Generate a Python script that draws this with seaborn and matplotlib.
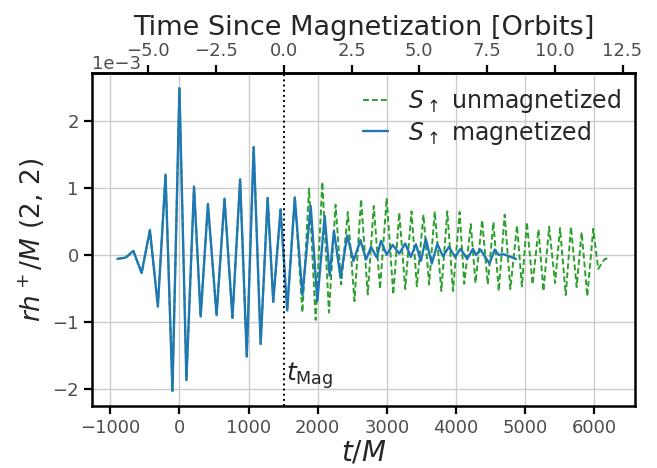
import numpy as np
import pandas as pd
import matplotlib
matplotlib.use("Agg")
import matplotlib.pyplot as plt
import seaborn as sns

# Time of magnetization and orbital period (in M)
t_mag = 1510
orbit_period = 392
orbit_ticks = [-5.0, -2.5, 0.0, 2.5, 5.0, 7.5, 10.0, 12.5]

# Extrema of the strain, h in units of 1e-3
# Inspiral part (identical for both runs)
t_shared = [-897, -777, -667, -547, -427, -312, -201, -101, 0, 101, 211, 307,
            412, 537, 652, 767, 878, 974, 1074, 1175, 1276, 1357, 1463, 1559]
h_shared = [-0.06, -0.04, 0.06, -0.27, 0.37, -0.77, 1.20, -2.03, 2.49, -1.87, 1.02, -0.92,
            0.76, -0.90, 0.84, -0.94, 1.13, -1.52, 1.61, -1.33, 0.85, -0.70, 0.68, -0.83]

# Magnetized run after t_mag
t_mag_run = [1669, 1779, 1899, 1995, 2101, 2173, 2235, 2331, 2427, 2518, 2619, 2700,
             2772, 2854, 2916, 2998, 3084, 3180, 3266, 3348, 3420, 3492, 3564, 3650,
             3731, 3813, 3899, 3986, 4067, 4163, 4245, 4293, 4355, 4403, 4484, 4561,
             4619, 4691, 4868]
h_mag_run = [0.85, -0.60, 0.73, -0.69, 0.58, -0.31, 0.36, -0.34, 0.29, -0.09, 0.22, -0.07,
             0.12, -0.04, 0.21, 0.00, 0.15, 0.02, 0.17, -0.03, 0.16, -0.09, 0.24, -0.13,
             0.16, -0.02, 0.12, -0.03, 0.09, -0.06, 0.09, 0.00, 0.08, 0.00, -0.13, 0.08,
             0.00, 0.01, -0.06]

# Unmagnetized run after t_mag
t_unmag_run = [1669, 1779, 1875, 1971, 2067, 2163, 2259, 2340, 2436, 2532, 2628, 2724,
               2811, 2902, 2998, 3093, 3180, 3266, 3357, 3434, 3530, 3612, 3693, 3789,
               3875, 3957, 4053, 4120, 4215, 4283, 4379, 4460, 4542, 4619, 4705, 4787,
               4883, 4954, 5026, 5108, 5194, 5266, 5348, 5434, 5506, 5588, 5664, 5746,
               5818, 5900, 5986, 6058, 6144, 6211]
h_unmag_run = [0.88, -0.86, 0.99, -0.97, 1.09, -0.86, 0.75, -0.44, 0.64, -0.69, 0.83, -0.59,
               0.73, -0.51, 0.85, -0.59, 0.63, -0.51, 0.65, -0.47, 0.60, -0.44, 0.65, -0.54,
               0.65, -0.54, 0.64, -0.43, 0.46, -0.42, 0.52, -0.44, 0.49, -0.54, 0.60, -0.51,
               0.44, -0.47, 0.49, -0.44, 0.38, -0.54, 0.42, -0.42, 0.40, -0.60, 0.42, -0.48,
               0.34, -0.62, 0.39, -0.21, -0.07, -0.04]

unmag = pd.DataFrame({"t": t_shared + t_unmag_run,
                      "h": np.array(h_shared + h_unmag_run) * 1e-3})
mag = pd.DataFrame({"t": t_shared + t_mag_run,
                    "h": np.array(h_shared + h_mag_run) * 1e-3})

sns.set_theme(style="ticks", rc={
    "axes.grid": True,
    "grid.color": "0.8",
    "grid.linewidth": 1.0,
    "axes.edgecolor": "black",
    "axes.linewidth": 1.8,
    "xtick.color": "black",
    "ytick.color": "black",
    "xtick.labelcolor": "0.3",
    "ytick.labelcolor": "0.3",
    "xtick.major.size": 6,
    "ytick.major.size": 6,
    "xtick.major.width": 1.6,
    "ytick.major.width": 1.6,
    "xtick.labelsize": 13,
    "ytick.labelsize": 13,
})
plt.rcParams["font.family"] = ["DejaVu Sans"]
plt.rcParams["mathtext.fontset"] = "dejavusans"

fig = plt.figure(figsize=(6.57, 4.68), dpi=100)
ax = fig.add_axes([0.140, 0.1325, 0.8265, 0.7115])

sns.lineplot(data=unmag, x="t", y="h", ax=ax, sort=False, estimator=None,
             color="#2ca02c", lw=1.4, linestyle=(0, (3, 1.6)),
             dash_joinstyle="round", label=r"$S_\uparrow$ unmagnetized")
sns.lineplot(data=mag, x="t", y="h", ax=ax, sort=False, estimator=None,
             color="#1f77b4", lw=1.7, solid_joinstyle="round",
             label=r"$S_\uparrow$ magnetized")

ax.axvline(t_mag, color="black", ls=":", lw=1.4)
ax.text(t_mag + 25, -1.88e-3, r"$t_{\rm Mag}$", fontsize=18, va="baseline")

ax.set_xlim(-1265, 6590)
ax.set_xlabel(r"$t/M$", fontsize=20, labelpad=1)
ax.set_ylabel(r"$rh^+/M\ (2,\,2)$", fontsize=19)
ax.ticklabel_format(axis="y", style="sci", scilimits=(0, 0))
ax.yaxis.get_offset_text().set_fontsize(13)
ax.yaxis.get_offset_text().set_color("0.3")

# top axis in orbits since magnetization
secax = ax.secondary_xaxis("top", functions=(lambda t: (t - t_mag) / orbit_period,
                                              lambda o: o * orbit_period + t_mag))
secax.set_xticks(orbit_ticks)
secax.set_xlabel("Time Since Magnetization [Orbits]", fontsize=19.5, labelpad=5)
secax.tick_params(labelsize=13, labelcolor="0.3")

leg = ax.legend(loc="upper right", frameon=False, fontsize=17, handlelength=1.05,
                handletextpad=0.85, borderaxespad=0.2, labelspacing=0.15)

fig.savefig("out.png", dpi=100)
